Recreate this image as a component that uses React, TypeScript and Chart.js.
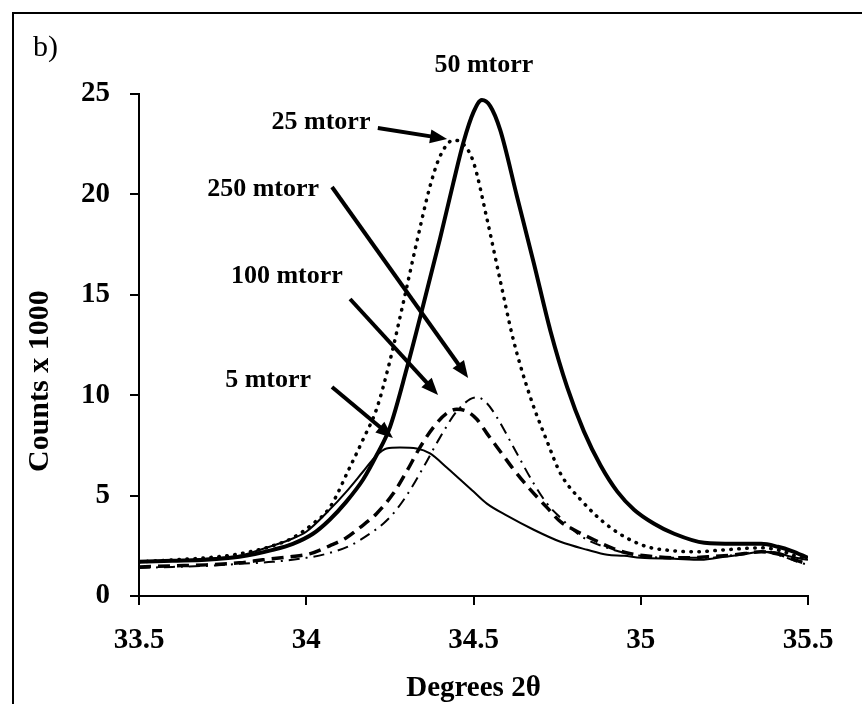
import React, { useEffect, useRef } from "react";
import { Chart, registerables } from "chart.js";

Chart.register(...registerables);

// ---- axis ticks ----
const X_TICKS = [33.5, 34, 34.5, 35, 35.5];
const Y_TICKS = [0, 5, 10, 15, 20, 25];

// ---- series (Degrees 2θ, Counts x 1000) ----
const X_5 = [33.5, 33.6, 33.7, 33.8, 33.88, 33.95, 34.0, 34.07, 34.12, 34.17, 34.21, 34.24, 34.28, 34.33, 34.37, 34.42, 34.46, 34.5, 34.54, 34.6, 34.68, 34.76, 34.84, 34.9, 34.95, 35.0, 35.1, 35.18, 35.25, 35.3, 35.36, 35.41, 35.45, 35.5];
const Y_5 = [1.7, 1.75, 1.85, 2.0, 2.4, 2.8, 3.2, 4.3, 5.2, 6.2, 7.0, 7.35, 7.4, 7.35, 7.1, 6.4, 5.8, 5.2, 4.6, 4.0, 3.3, 2.7, 2.3, 2.05, 2.0, 1.9, 1.85, 1.8, 1.95, 2.05, 2.2, 2.15, 1.95, 1.8];

const X_25 = [33.5, 33.6, 33.7, 33.8, 33.9, 33.96, 34.02, 34.07, 34.13, 34.17, 34.21, 34.25, 34.29, 34.33, 34.37, 34.4, 34.44, 34.47, 34.5, 34.54, 34.58, 34.62, 34.67, 34.72, 34.76, 34.82, 34.91, 35.01, 35.1, 35.16, 35.25, 35.36, 35.42, 35.46, 35.5];
const Y_25 = [1.7, 1.8, 1.9, 2.1, 2.5, 2.9, 3.6, 4.4, 6.4, 7.8, 9.3, 11.7, 14.6, 17.6, 20.4, 21.9, 22.7, 22.5, 21.6, 18.8, 15.7, 12.7, 9.9, 7.7, 6.1, 4.8, 3.4, 2.5, 2.25, 2.2, 2.3, 2.4, 2.25, 2.0, 1.8];

const X_50 = [33.5, 33.6, 33.7, 33.8, 33.9, 33.96, 34.02, 34.07, 34.12, 34.17, 34.21, 34.25, 34.3, 34.35, 34.4, 34.44, 34.47, 34.5, 34.525, 34.55, 34.58, 34.63, 34.68, 34.73, 34.78, 34.83, 34.88, 34.93, 34.98, 35.04, 35.1, 35.19, 35.28, 35.36, 35.41, 35.45, 35.5];
const Y_50 = [1.7, 1.75, 1.8, 1.95, 2.3, 2.6, 3.1, 3.8, 4.7, 5.8, 7.0, 8.4, 11.3, 14.5, 17.8, 20.6, 22.6, 24.1, 24.7, 24.4, 23.2, 19.9, 16.6, 13.2, 10.4, 8.2, 6.5, 5.2, 4.3, 3.6, 3.1, 2.65, 2.6, 2.6, 2.45, 2.25, 1.9];

const X_100 = [33.5, 33.6, 33.7, 33.8, 33.87, 33.95, 34.01, 34.07, 34.12, 34.16, 34.21, 34.26, 34.3, 34.34, 34.38, 34.42, 34.45, 34.48, 34.51, 34.54, 34.58, 34.62, 34.67, 34.72, 34.76, 34.8, 34.86, 34.92, 34.97, 35.05, 35.12, 35.2, 35.28, 35.36, 35.42, 35.46, 35.5];
const Y_100 = [1.45, 1.5, 1.55, 1.65, 1.8, 1.95, 2.1, 2.5, 2.9, 3.4, 4.1, 5.1, 6.2, 7.4, 8.4, 9.1, 9.3, 9.2, 8.8, 8.1, 7.2, 6.3, 5.3, 4.4, 3.7, 3.3, 2.8, 2.35, 2.1, 1.95, 1.9, 1.95, 2.05, 2.2, 2.05, 1.8, 1.6];

const X_250 = [33.5, 33.6, 33.7, 33.8, 33.9, 34.0, 34.06, 34.13, 34.19, 34.23, 34.26, 34.3, 34.35, 34.4, 34.45, 34.49, 34.51, 34.54, 34.57, 34.62, 34.68, 34.72, 34.76, 34.82, 34.9, 35.0, 35.1, 35.2, 35.28, 35.36, 35.42, 35.46, 35.5];
const Y_250 = [1.4, 1.45, 1.5, 1.6, 1.7, 1.9, 2.1, 2.5, 3.1, 3.6, 4.1, 5.0, 6.4, 7.9, 9.2, 9.8, 9.9, 9.6, 8.9, 7.4, 5.6, 4.6, 3.9, 3.0, 2.4, 2.0, 1.9, 1.9, 2.05, 2.2, 2.0, 1.75, 1.55];

// ---- annotations (data coordinates) ----
const NOTE_TEXT = ["50 mtorr", "25 mtorr", "250 mtorr", "100 mtorr", "5 mtorr"];
const NOTE_X = [34.531, 34.044, 33.871, 33.942, 33.886];
const NOTE_Y = [26.44, 23.6, 20.27, 15.94, 10.76];
const ARROW_X0 = [NaN, 34.214, 34.077, 34.131, 34.077];
const ARROW_Y0 = [NaN, 23.31, 20.37, 14.79, 10.41];
const ARROW_X1 = [NaN, 34.421, 34.484, 34.394, 34.259];
const ARROW_Y1 = [NaN, 22.76, 10.86, 10.01, 7.87];

const Y_TITLE = "Counts x 1000";
const Y_TITLE_AT = 10.7; // value along the y axis where the title is centred

const SERIF = "'Liberation Serif', 'Times New Roman', Times, serif";

const zip = (xs: number[], ys: number[]) => xs.map((x, i) => ({ x, y: ys[i] }));

const annotationPlugin = {
  id: "notes",
  beforeDraw(chart: any) {
    const ctx = chart.ctx;
    ctx.save();
    ctx.strokeStyle = "#000";
    ctx.lineWidth = 2;
    ctx.beginPath();
    ctx.moveTo(13, chart.height);
    ctx.lineTo(13, 13);
    ctx.lineTo(chart.width, 13);
    ctx.stroke();
    ctx.fillStyle = "#000";
    ctx.font = `30px ${SERIF}`;
    ctx.textAlign = "left";
    ctx.textBaseline = "alphabetic";
    ctx.fillText("b)", 33, 56);
    ctx.restore();
  },
  afterDraw(chart: any) {
    const ctx = chart.ctx;
    const ys = chart.scales.y;
    ctx.save();
    ctx.fillStyle = "#000";
    ctx.font = `bold 30px ${SERIF}`;
    ctx.textAlign = "center";
    ctx.textBaseline = "middle";
    ctx.translate(40, ys.getPixelForValue(Y_TITLE_AT));
    ctx.rotate(-Math.PI / 2);
    ctx.fillText(Y_TITLE, 0, 0);
    ctx.restore();
  },
  afterDatasetsDraw(chart: any) {
    const ctx = chart.ctx;
    const xs = chart.scales.x;
    const ys = chart.scales.y;
    ctx.save();
    ctx.fillStyle = "#000";
    ctx.strokeStyle = "#000";
    ctx.font = `bold 26px ${SERIF}`;
    ctx.textAlign = "center";
    ctx.textBaseline = "middle";
    NOTE_TEXT.forEach((t, i) => {
      ctx.fillText(t, xs.getPixelForValue(NOTE_X[i]), ys.getPixelForValue(NOTE_Y[i]));
      if (!isNaN(ARROW_X0[i])) {
        const x0 = xs.getPixelForValue(ARROW_X0[i]);
        const y0 = ys.getPixelForValue(ARROW_Y0[i]);
        const x1 = xs.getPixelForValue(ARROW_X1[i]);
        const y1 = ys.getPixelForValue(ARROW_Y1[i]);
        const ang = Math.atan2(y1 - y0, x1 - x0);
        const hl = 17;
        const hw = 7;
        const bx = x1 - hl * Math.cos(ang);
        const by = y1 - hl * Math.sin(ang);
        ctx.lineWidth = 4;
        ctx.lineCap = "butt";
        ctx.beginPath();
        ctx.moveTo(x0, y0);
        ctx.lineTo(bx + 2 * Math.cos(ang), by + 2 * Math.sin(ang));
        ctx.stroke();
        ctx.beginPath();
        ctx.moveTo(x1, y1);
        ctx.lineTo(bx - hw * Math.sin(ang), by + hw * Math.cos(ang));
        ctx.lineTo(bx + hw * Math.sin(ang), by - hw * Math.cos(ang));
        ctx.closePath();
        ctx.fill();
      }
    });
    ctx.restore();
  },
};

export default function App() {
  const ref = useRef<HTMLCanvasElement | null>(null);

  useEffect(() => {
    if (!ref.current) return;
    const line = (label: string, xs: number[], ys: number[], width: number, dash: number[], cap: CanvasLineCap = "butt") => ({
      label,
      data: zip(xs, ys),
      borderColor: "#000",
      backgroundColor: "#000",
      borderWidth: width,
      borderDash: dash,
      borderCapStyle: cap,
      pointRadius: 0,
      cubicInterpolationMode: "monotone" as const,
      fill: false,
    });
    const chart = new Chart(ref.current, {
      type: "line",
      data: {
        datasets: [
          line("5 mtorr", X_5, Y_5, 2, []),
          line("100 mtorr", X_100, Y_100, 3.5, [12, 7]),
          line("250 mtorr", X_250, Y_250, 2, [11, 6, 2, 6]),
          line("25 mtorr", X_25, Y_25, 3.5, [0.5, 7.5], "round"),
          line("50 mtorr", X_50, Y_50, 4, []),
        ],
      },
      options: {
        animation: false,
        responsive: false,
        layout: { padding: { top: 94, right: 54, left: 0, bottom: 0 } },
        plugins: { legend: { display: false }, tooltip: { enabled: false } },
        scales: {
          x: {
            type: "linear",
            min: 33.5,
            max: 35.5,
            afterFit: (s: any) => { s.height = 108; },
            afterBuildTicks: (s: any) => { s.ticks = X_TICKS.map((v) => ({ value: v })); },
            grid: { drawOnChartArea: false, drawTicks: true, tickLength: 9, color: "#000", lineWidth: 2 },
            border: { display: true, color: "#000", width: 2 },
            ticks: {
              color: "#000",
              padding: 18,
              maxRotation: 0,
              font: { family: SERIF, size: 29, weight: "bold" },
              callback: (v: any) => String(v),
            },
            title: {
              display: true,
              text: "Degrees 2θ",
              color: "#000",
              padding: { top: 0, bottom: -2 },
              font: { family: SERIF, size: 29, weight: "bold", lineHeight: 1.2 },
            },
          },
          y: {
            type: "linear",
            min: 0,
            max: 25,
            afterFit: (s: any) => { s.width = 139; },
            afterBuildTicks: (s: any) => { s.ticks = Y_TICKS.map((v) => ({ value: v })); },
            grid: { drawOnChartArea: false, drawTicks: true, tickLength: 9, color: "#000", lineWidth: 2 },
            border: { display: true, color: "#000", width: 2 },
            ticks: {
              color: "#000",
              padding: 20,
              font: { family: SERIF, size: 29, weight: "bold" },
            },
            title: { display: false },
          },
        },
      },
      plugins: [annotationPlugin],
    });
    return () => chart.destroy();
  }, []);

  return (
    <div style={{ position: "fixed", left: 0, top: 0, width: 862, height: 704, background: "#fff" }}>
      <canvas ref={ref} width={862} height={704} style={{ display: "block" }} />
    </div>
  );
}
